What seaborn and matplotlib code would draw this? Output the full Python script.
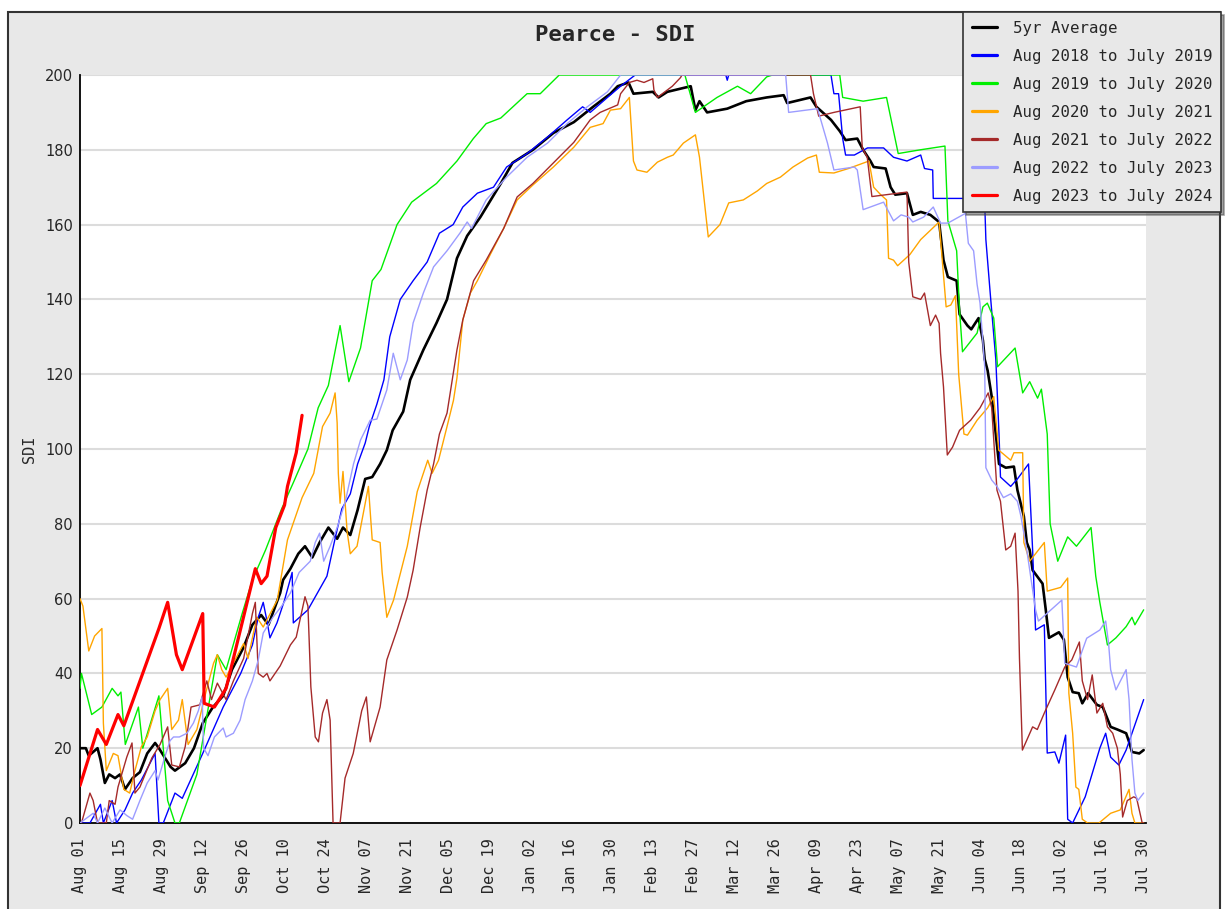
import numpy as np
import pandas as pd
import matplotlib
matplotlib.use('Agg')
import matplotlib.pyplot as plt
import matplotlib.dates as mdates
from matplotlib.lines import Line2D
from matplotlib.patches import Rectangle
import seaborn as sns

# season starts Aug 01; x values are days since Aug 01
SEASON_START = pd.Timestamp('2023-08-01')

avg_5yr = [(0, 20), (2, 20), (3, 18), (6, 20), (7, 17), (8.5, 10.7), (10, 13), (12, 12), (13.7, 13),
           (15.4, 9), (18, 12), (20.5, 13.6), (23, 18.6), (25.7, 21.4), (27, 20), (31, 15), (32.5, 14),
           (36, 16), (39, 20), (42, 26.7), (45.5, 31), (49, 34), (52, 41), (56, 47), (59, 53), (62, 55.6),
           (64.5, 53), (68.5, 61.5), (69.5, 65), (72, 68), (74.7, 72), (77, 74), (79.5, 71), (82, 75),
           (85, 79), (88, 76), (90, 79), (92.5, 77), (95, 83.7), (97.6, 92), (100, 92.5), (102.7, 96),
           (105, 99.7), (107, 105), (110.6, 110), (113, 118.5), (117.5, 126.5), (122, 133.7),
           (125.6, 140), (129, 151), (132.5, 157), (137, 162), (144, 171), (148, 176.5), (155, 180),
           (162, 184.5), (169, 187.4), (175.6, 191.5), (181.5, 195), (184, 197), (187.7, 198),
           (189.4, 195), (196, 195.5), (198, 194), (201, 195.5), (209, 197), (210.6, 190.6), (212, 193),
           (214.6, 190), (221.5, 191), (228, 193), (235, 194), (240.8, 194.6), (242, 192.5), (250, 194),
           (252, 191.5), (257, 188), (260, 185), (262, 182.6), (266, 183), (268, 180), (270.5, 177),
           (271.6, 175.4), (275.7, 175), (277.4, 170), (279, 168), (283, 168.4), (285, 162.6),
           (287.7, 163.4), (291, 162.6), (294, 160.7), (295.5, 150.5), (297, 146), (300, 145), (301, 136),
           (303.7, 133), (305, 132), (307.5, 135), (309, 129), (309.6, 124), (310.6, 121), (312, 114),
           (313.4, 104), (314.5, 96), (316.8, 95), (319.6, 95.3), (320.8, 89), (323, 82), (324, 75),
           (325, 73), (326, 67.6), (329.4, 64), (330.5, 57), (331.6, 49.5), (335, 51), (336.7, 49),
           (338, 39), (339.7, 35), (341.8, 34.7), (343, 32), (345, 34.7), (348, 31.6), (350, 31),
           (352.7, 25.7), (355, 25), (358, 24), (359, 21.7), (360, 19), (362.5, 18.6), (364, 19.5)]

sdi_2018 = [(0, 0), (3.4, 0), (7, 5), (8, 0), (11, 6), (12.5, 0), (15.4, 3.5), (18, 8), (21, 11.5),
            (25.7, 18.6), (27, 0), (28.5, 0), (32.5, 8), (35, 6.6), (42, 18.6), (49, 31), (55, 40),
            (59, 47.6), (61, 55), (62.7, 59), (64, 54), (65, 49.5), (67.4, 53.5), (70, 59.6), (72.6, 67),
            (73, 53.5), (78, 57), (84.5, 66), (87, 75), (89.6, 84), (92.5, 88), (95, 96), (97.6, 101.6),
            (99, 106), (101.6, 112), (104, 118.5), (106, 130), (109.6, 140), (114, 145), (118.8, 150),
            (123, 157.7), (127.7, 160), (131, 164.7), (136, 168.4), (141.5, 170), (146, 175.4),
            (153, 179), (160, 183.4), (166.7, 188), (172, 191.5), (174.6, 190), (180.5, 194), (185, 197),
            (190, 200), (221, 200), (221.5, 198.6), (222, 200), (257, 200), (258, 195), (259.6, 195),
            (261, 183), (262, 178.6), (265, 178.6), (269.5, 180.5), (275, 180.5), (278.4, 178),
            (283, 177), (287.7, 178.6), (289, 175), (291.8, 174.6), (292, 167), (302, 167), (309.6, 166),
            (310, 156), (311.6, 140.6), (313.4, 124), (314.5, 104), (315, 92.5), (318.5, 90),
            (320.8, 92), (324.6, 96), (326, 73), (327, 51.6), (330, 53), (331, 18.7), (333.6, 19),
            (335, 16), (337.3, 23.5), (338, 1), (339.7, 0), (344, 7), (349, 20), (351, 24), (352.7, 17.6),
            (355.5, 15.5), (358, 19.5), (364, 33)]

sdi_2019 = [(0, 36), (0.5, 40), (4, 29), (7.5, 31), (11, 36), (13, 34), (14, 35), (15.5, 21), (20, 31),
            (21.5, 20), (27, 34), (30, 6), (32.5, 0), (34, 0), (40, 13), (43.5, 29), (47, 45), (50, 41),
            (55.5, 56), (59, 65), (63.5, 73), (69, 84), (73, 91), (78, 100), (81.5, 111), (85, 117),
            (89, 133), (92, 118), (96, 127), (100, 145), (103, 148), (108.5, 160), (113.5, 166),
            (122, 171), (129, 177), (134.6, 183), (139, 187), (144, 188.5), (153, 195), (157.5, 195),
            (164, 200), (207, 200), (210.6, 190), (218, 194), (225, 197), (229.5, 195), (235, 199.5),
            (237, 200), (260, 200), (261, 194), (268, 193), (276, 194), (280, 179), (287.6, 180),
            (296, 181), (297, 161), (300, 153), (301, 137), (302, 126), (307, 131), (309, 138),
            (310.5, 139), (312.7, 135), (314, 122), (320, 127), (322.6, 115), (325, 118), (327.7, 113.6),
            (329, 116), (331, 104), (332, 80), (334.6, 70), (338, 76.5), (341, 74), (346, 79),
            (347.6, 66), (349, 59), (351.6, 47.6), (354.5, 49.5), (358, 52.5), (360, 55), (361, 53),
            (364, 57)]

sdi_2020 = [(0, 60), (1, 58), (3, 46), (5, 50), (7.5, 52), (8, 26.7), (9, 14), (11.4, 18.6), (13, 18),
            (15, 9), (17, 8), (18.8, 14), (21, 20.4), (23, 23), (25.7, 30), (27.4, 33), (30, 36),
            (31.4, 25), (33.7, 27.5), (35, 33), (37, 21), (40, 25), (43, 34.7), (45.7, 42.7), (47, 45),
            (48.5, 41), (50, 39), (56, 48), (57.5, 44), (60.5, 55), (62.7, 52.4), (67.5, 59.6),
            (71, 75.7), (76, 87), (80, 93.5), (83, 106), (85.6, 109.6), (87.3, 115), (88, 107),
            (88.4, 93.5), (89, 85.5), (90, 94), (91.4, 78), (92.5, 72), (94.8, 74), (97, 83), (98.7, 90),
            (100, 75.7), (102.7, 75), (103.4, 67), (105, 55), (107.3, 59.6), (112, 74), (115.4, 88.6),
            (119, 97), (120.5, 93.5), (122.7, 97), (125.6, 106), (127.8, 113), (129, 119), (131, 134.5),
            (133.6, 141.7), (136, 145), (140.4, 152), (145, 159), (149.6, 166.6), (155, 170.6),
            (162, 175.4), (169, 180.7), (174.6, 186), (179, 187), (181.5, 190.6), (185, 191), (188, 194),
            (189.4, 177), (190.6, 174.6), (194, 174), (197.6, 176.7), (201, 178), (203, 178.6),
            (206.5, 181.8), (210.6, 184), (212, 178), (215, 156.7), (219, 160), (222, 165.8),
            (227, 166.6), (231.8, 169), (235, 171), (239.7, 172.7), (244, 175.4), (249, 177.8),
            (252, 178.6), (253, 174), (258, 173.8), (263, 175), (270, 177), (271.6, 170), (274, 168),
            (276, 166.6), (276.7, 151), (278.4, 150.5), (279.8, 149), (284, 152), (287.7, 156),
            (294, 160.7), (296.4, 138), (298, 138.5), (299.6, 141), (300.7, 120), (302.5, 104),
            (303.7, 103.7), (307, 107.7), (310.6, 111), (312.7, 114), (314.4, 99.7), (318.5, 97),
            (319.6, 99), (322.6, 99), (323, 75), (325, 70), (330, 75), (331, 62), (335.6, 63),
            (338, 65.5), (338.4, 34.7), (339.7, 24), (340.8, 9.6), (341.8, 9), (343, 1), (344.8, 0),
            (348.7, 0), (352.7, 2.6), (356, 3.5), (359, 9), (360, 2.6), (361, 0), (364, 0)]

sdi_2021 = [(0.5, 0), (3.4, 8), (4.5, 6), (6, 0), (9, 0), (10, 6), (12, 5), (13, 9.6), (16, 17.6),
            (17.8, 21.4), (18.8, 8), (20.5, 9.6), (24.6, 17.4), (27.4, 21), (30, 25.7), (31.4, 15.5),
            (34, 15), (36, 20.4), (38, 31), (41, 31.6), (43.4, 38), (45, 33), (47, 37.4), (50, 33),
            (52.5, 38), (56, 44), (59, 56), (60, 59), (61, 40), (62.7, 39), (64, 40), (65, 38),
            (68.5, 42), (72, 47.6), (74, 49.7), (77, 60.5), (78, 58), (79, 36.4), (80.5, 23),
            (81.6, 21.7), (83, 29.4), (84.5, 33), (85.6, 27.5), (86.6, 0), (89, 0), (90.7, 12),
            (93.5, 18.6), (96.4, 30), (98, 33.7), (99.3, 21.7), (102.7, 31), (105, 43.6), (108.5, 51.6),
            (112, 60.4), (114, 67.6), (116.4, 79), (118.8, 89), (121, 96), (123, 104), (125.6, 109.6),
            (129, 126.5), (131, 134.5), (134.7, 145), (139, 150.5), (145, 159), (149.6, 167.4),
            (155, 171), (162, 176.5), (169, 182), (174.6, 188), (178, 190), (184, 192), (185, 195),
            (188, 198), (190.6, 198.6), (193, 198), (196, 199), (196.4, 196), (197.6, 194),
            (202.7, 197), (205.5, 199.3), (206, 200), (250, 200), (251, 195), (252.8, 189), (258, 190),
            (267, 191.5), (267.7, 180.5), (269.4, 178), (271, 167.5), (283, 168.7), (283.6, 150),
            (285, 140.7), (287.7, 140), (289, 141.7), (291, 133), (292.8, 135.8), (294, 133.6),
            (294.5, 125.6), (295.5, 116.6), (296.8, 98.4), (298.6, 100.5), (301, 105), (304.8, 107.7),
            (308, 111), (310.8, 115), (312, 111), (313.8, 89), (315, 86), (316.8, 73), (318.5, 74),
            (320, 77.5), (321, 62), (321.5, 44), (322.5, 19.5), (326, 25.7), (327.6, 25), (330, 29.4),
            (333.6, 35.6), (337, 41.7), (339.4, 43.6), (342, 48.4), (343, 38), (344.8, 33),
            (346.4, 39.6), (348, 29.4), (350, 32), (351.6, 25.7), (353.4, 24), (355, 20), (356, 13),
            (356.8, 1.6), (358.4, 6), (360.6, 7), (361.6, 6.6), (363.5, 0), (364, 0)]

sdi_2022 = [(0, 0), (4.5, 2.6), (6, 0), (8.5, 4), (11, 0), (13.7, 3.5), (16, 2), (18, 1), (20.5, 6),
            (23, 10.7), (25.7, 14), (26.7, 11.5), (29, 17.6), (30.8, 22), (32, 23), (34, 23),
            (36.6, 24), (38.8, 26.7), (40.5, 30), (41.8, 33.7), (42.3, 20), (43.8, 18), (46, 23),
            (49, 25.4), (50, 23), (52.5, 24), (54.8, 27.5), (56.5, 33), (59, 38), (61, 43.6),
            (62.7, 50.8), (66, 55), (69, 58), (72, 61.5), (75, 67), (78.8, 70), (80.5, 75), (82, 77.5),
            (83.4, 70), (85.6, 74), (88, 79), (90.8, 86), (93.6, 96), (96, 102.4), (99.3, 107.7),
            (101.6, 108), (105, 115.8), (107.2, 125.6), (109.6, 118.5), (112, 123.8), (114, 133.7),
            (117.5, 141.7), (121, 148.7), (125.6, 153), (130, 157.7), (132.5, 160.7), (134, 159),
            (139, 166.6), (146, 172.7), (153, 178), (160, 181.8), (166.7, 187), (173.6, 191.5),
            (180.5, 195.5), (185, 200), (241.5, 200), (242.5, 190), (252.4, 191), (255.8, 181.8),
            (258, 174.6), (265, 175.4), (266, 174.6), (268, 164), (275, 166), (278.4, 161),
            (281, 162.6), (283.6, 162), (285, 160.7), (288.7, 162), (292, 164.7), (294.5, 160.4),
            (297, 160.4), (300, 161.7), (303, 163), (304, 155), (305.8, 153), (307, 144), (308, 139),
            (309.6, 122), (310, 95), (312, 91.7), (313.8, 90), (316, 87), (318.5, 88), (320.8, 86),
            (322, 82), (324, 73), (327, 57), (328, 54), (336, 59.6), (337, 42.7), (341, 41.7),
            (344.5, 49.4), (349, 51.6), (351, 54), (352, 48), (352.7, 41), (354.5, 35.6), (358, 41),
            (359, 33), (360, 17), (361, 8), (362, 6), (364, 8)]

sdi_2023 = [(0, 10), (6, 25), (9, 21), (13, 29), (15, 26), (27, 52), (30, 59), (33, 45), (35, 41),
            (42, 56), (42.5, 32), (46, 31), (50, 36), (55, 52), (60, 68), (62, 64), (64, 66), (67, 79),
            (70, 85), (71, 90), (74, 99), (76, 109)]

# (label, data, colour, line width) in legend order
series = [
    ('5yr Average', avg_5yr, 'black', 1.9),
    ('Aug 2018 to July 2019', sdi_2018, '#0000ff', 1.0),
    ('Aug 2019 to July 2020', sdi_2019, '#00ee00', 1.0),
    ('Aug 2020 to July 2021', sdi_2020, '#ffa500', 1.0),
    ('Aug 2021 to July 2022', sdi_2021, '#a52a2a', 1.0),
    ('Aug 2022 to July 2023', sdi_2022, '#9c9cff', 1.0),
    ('Aug 2023 to July 2024', sdi_2023, '#ff0000', 2.3),
]
draw_order = [1, 2, 3, 4, 5, 0, 6]

sns.set_style('white')
MONO = 'DejaVu Sans Mono'
plt.rcParams['font.family'] = ['DejaVu Sans']

W, H = 1227, 909
fig = plt.figure(figsize=(W / 100, H / 100), dpi=100, facecolor='white')
fig.patches.append(Rectangle((8 / W, -0.02), (1220 - 8) / W, (H - 12) / H + 0.02,
                             transform=fig.transFigure, facecolor='#e8e8e8',
                             edgecolor='#333333', lw=1.5, zorder=-10))
ax = fig.add_axes([80 / W, (H - 823) / H, (1146 - 80) / W, (823 - 75) / H])
ax.set_facecolor('white')

for i in draw_order:
    label, pts, color, lw = series[i]
    df = pd.DataFrame(pts, columns=['day', 'sdi'])
    df['date'] = SEASON_START + pd.to_timedelta(df['day'], unit='D')
    sns.lineplot(data=df, x='date', y='sdi', color=color, linewidth=lw,
                 estimator=None, sort=False, legend=False, ax=ax, zorder=3 + i)

# axes
ax.set_ylim(0, 200)
ax.set_xlim(SEASON_START, SEASON_START + pd.Timedelta(days=364.8))
ax.set_yticks(np.arange(0, 201, 20))
ax.set_yticks(np.arange(0, 201, 10), minor=True)
ax.set_xticks(pd.date_range(SEASON_START, periods=27, freq='14D'))
ax.set_xticks(pd.date_range(SEASON_START, periods=53, freq='7D'), minor=True)
ax.xaxis.set_major_formatter(mdates.DateFormatter('%b %d'))
ax.tick_params(axis='both', which='both', direction='in', length=6, width=1.2,
               color='black', top=False, right=False)
ax.tick_params(axis='y', labelsize=10.5, pad=5)
ax.tick_params(axis='x', labelsize=11, pad=11, labelrotation=90)
for t in ax.get_xticklabels():
    t.set_fontfamily(MONO)
ax.yaxis.grid(True, color='#dcdcdc', lw=1.5)
ax.set_axisbelow(True)
for side in ['top', 'right']:
    ax.spines[side].set_visible(False)
for side in ['left', 'bottom']:
    ax.spines[side].set_color('black')
    ax.spines[side].set_linewidth(1.3)
ax.set_xlabel('')
ax.set_ylabel('SDI', fontfamily=MONO, fontsize=11)
ax.yaxis.set_label_coords((37 - 80) / (1146 - 80), 0.5)

fig.text(615 / W, 1 - 35 / H, 'Pearce - SDI', ha='center', va='center',
         fontfamily=MONO, fontsize=16, fontweight='bold')

handles = [Line2D([], [], color=c, lw=2.3) for _, _, c, _ in series]
labels = [s[0] for s in series]
leg = fig.legend(handles, labels, loc='upper right', bbox_to_anchor=(1221 / W, 1 - 12 / H),
                 prop={'family': MONO, 'size': 11.3}, frameon=True, fancybox=False,
                 shadow=True, facecolor='#e8e8e8', edgecolor='#333333', framealpha=1,
                 labelspacing=0.83, handlelength=1.6, handletextpad=1.0, borderpad=0.55,
                 borderaxespad=0)
leg.get_frame().set_linewidth(1.2)

fig.savefig('out.png', dpi=100, facecolor=fig.get_facecolor())
